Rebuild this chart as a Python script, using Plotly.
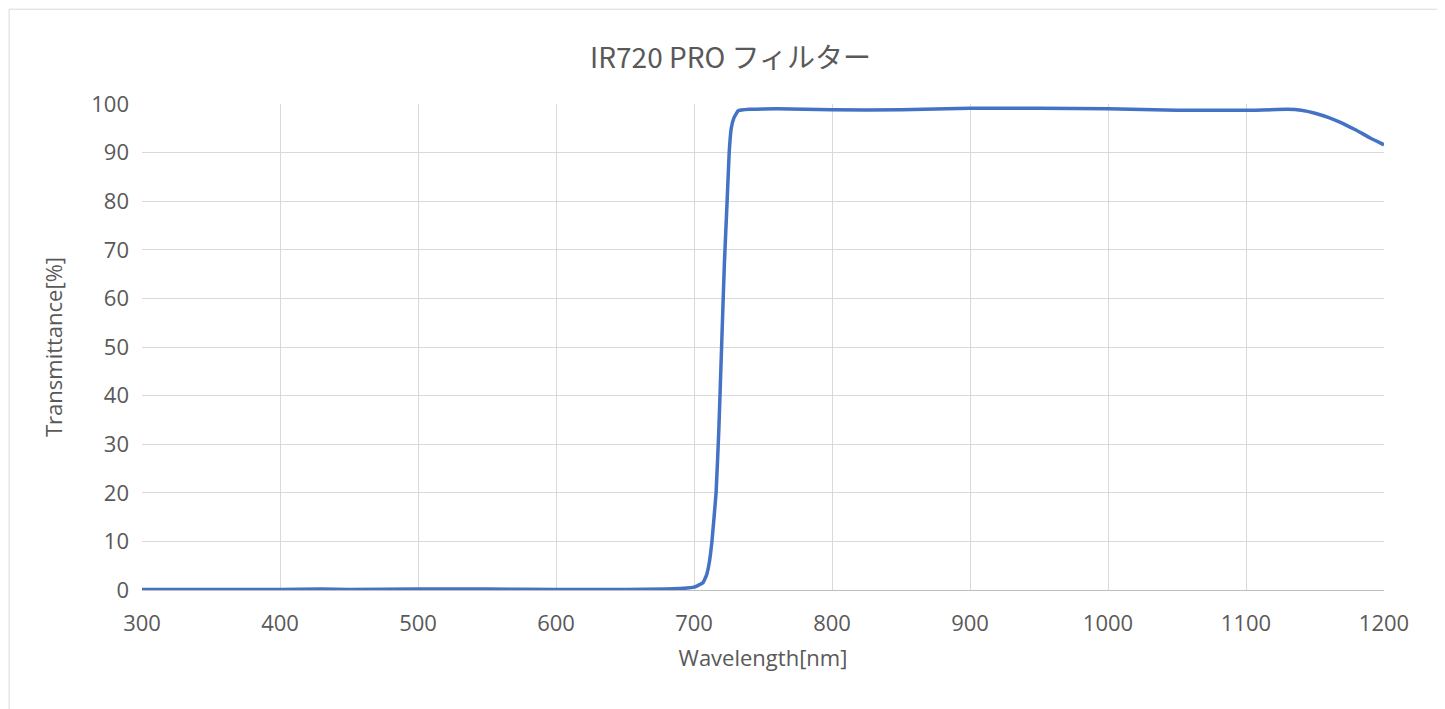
import plotly.graph_objects as go

# Transmittance curve
wavelength = [300, 350, 400, 430, 450, 500, 550, 600, 650, 680, 690, 695, 700, 702, 704,
              706.5, 709, 711, 713, 716, 718, 720, 722, 724, 725.5, 727, 729, 732, 740,
              760, 800, 850, 900, 950, 1000, 1050, 1100, 1130, 1140, 1150, 1160, 1170,
              1180, 1190, 1200]
transmittance = [0.1, 0.1, 0.1, 0.2, 0.1, 0.2, 0.2, 0.1, 0.1, 0.2, 0.3, 0.4, 0.6, 0.8, 1.1,
                 1.5, 3.0, 5.5, 10, 20, 33, 50, 67, 80, 90, 95, 97.2, 98.6, 98.9,
                 99.0, 98.8, 98.8, 99.1, 99.1, 99.0, 98.7, 98.7, 98.9, 98.7, 98.1, 97.2, 96.0,
                 94.6, 93.0, 91.6]

fig = go.Figure()
fig.add_trace(go.Scatter(
    x=wavelength, y=transmittance, mode='lines',
    line=dict(color='#4472C4', width=3.5, shape='spline', smoothing=0.3),
    showlegend=False
))

font_family = 'Open Sans, Noto Sans CJK JP'
tick_font = dict(family=font_family, size=22, color='#595959')

fig.update_xaxes(
    range=[300, 1200], dtick=100, tick0=300,
    showgrid=True, gridcolor='#D9D9D9', gridwidth=1.3,
    showline=True, linecolor='#BFBFBF', zeroline=False,
    tickfont=tick_font, ticks='', ticklabelstandoff=14,
    title=dict(text='Wavelength[nm]', font=dict(family=font_family, size=22, color='#595959'), standoff=14)
)
fig.update_yaxes(
    range=[0, 100], dtick=10,
    showgrid=True, gridcolor='#D9D9D9', gridwidth=1.3,
    zeroline=False, tickfont=tick_font, ticks='', ticklabelstandoff=12,
    title=dict(text='Transmittance[%]', font=dict(family=font_family, size=22, color='#595959'), standoff=22)
)

fig.update_layout(
    width=1445, height=709,
    margin=dict(l=134, r=69, t=96, b=127),
    paper_bgcolor='white', plot_bgcolor='white',
    title=dict(text='IR720 PRO フィルター', x=0.5, xanchor='center', y=0.929, yanchor='middle',
               font=dict(family='Noto Sans CJK JP', size=28, color='#595959')),
    shapes=[dict(type='rect', xref='paper', yref='paper', x0=-0.107, x1=1.054, y0=-0.259, y1=1.195,
                 line=dict(color='#D9D9D9', width=1))]
)

fig.write_html('out.html')
